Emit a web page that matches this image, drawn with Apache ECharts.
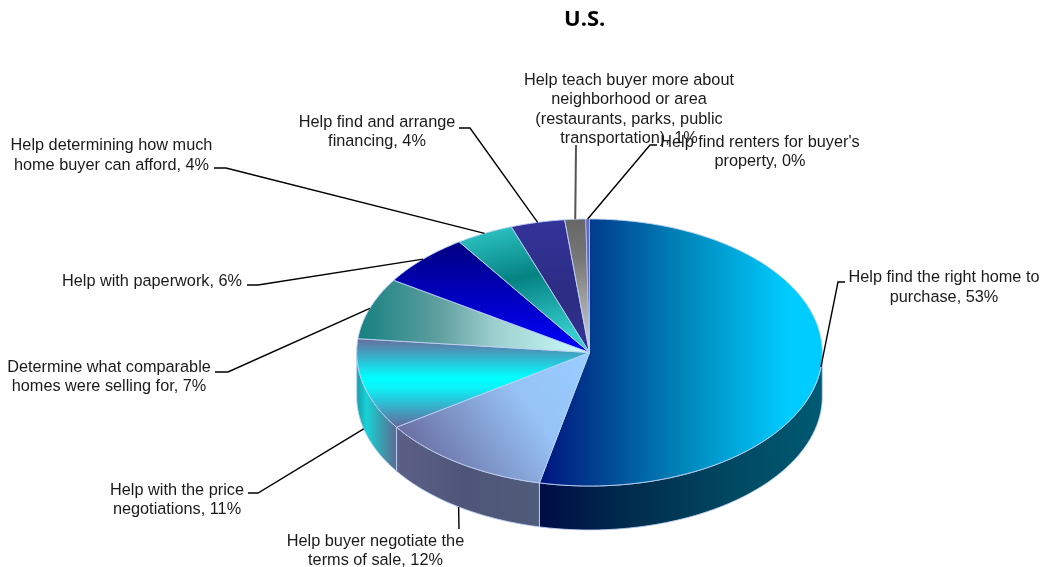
<!DOCTYPE html>
<html><head><meta charset="utf-8">
<style>html,body{margin:0;padding:0;background:#fff}#c{width:1042px;height:567px}</style>
<script src="https://cdn.jsdelivr.net/npm/echarts@6/dist/echarts.min.js"></script></head>
<body><div id="c"></div>
<script>
// DATA (shares in percent, estimated; labels show them rounded)
const categories = [
  "Help find the right home to\npurchase",
  "Help buyer negotiate the\nterms of sale",
  "Help with the price\nnegotiations",
  "Determine what comparable\nhomes were selling for",
  "Help with paperwork",
  "Help determining how much\nhome buyer can afford",
  "Help find and arrange\nfinancing",
  "Help teach buyer more about\nneighborhood or area\n(restaurants, parks, public\ntransportation)",
  "Help find renters for buyer's\nproperty"
];
const shares = [53.45, 12.1, 11.1, 7.45, 6.45, 4.0, 3.75, 1.45, 0.25];

// LAYOUT
const CX = 589.5, CY = 352.5, RX = 232.8, RY = 133.5, DEPTH = 44;
// label centre [x, y of first line centre], elbow chain from the rim outward
const labelPos = [
  [944, 278], [375.5, 541.5], [177, 490.5], [109, 367.5], [152, 281.5],
  [111.5, 146], [377, 122.5], [629, 80.5], [760, 142.5]
];
const elbows = [
  [[838, 282], [845, 282]],
  [[459, 529]],
  [[258, 493], [248, 493]],
  [[228, 372], [215, 372]],
  [[258, 285], [247, 285]],
  [[226, 168], [214, 168]],
  [[470, 128], [459, 128]],
  [[576, 145]],
  [[650, 145], [657, 145]]
];
const LH = 19.4;

// STYLE
const G = (x0, y0, x1, y1, stops) => new echarts.graphic.LinearGradient(x0, y0, x1, y1,
  stops.map(s => ({offset: s[0], color: s[1]})));
const topFill = [
  G(0,0,1,0,[[0,'#001480'],[0.2,'#00408f'],[0.5,'#0084b8'],[0.88,'#00ccff'],[1,'#00ccff']]),
  G(0.95,0.05,0.1,0.95,[[0,'#99ccff'],[0.35,'#96c2f5'],[1,'#666699']]),
  G(0,0,0,1,[[0,'#6a6a9b'],[0.44,'#00ffff'],[0.55,'#0cf4fa'],[1,'#666699']]),
  G(0,0,1,0,[[0,'#158080'],[0.35,'#5f9f9f'],[0.6,'#9fd0d0'],[1,'#ccffff']]),
  G(0,0,0,1,[[0,'#000080'],[1,'#0000ff']]),
  G(0,0,0.25,1,[[0,'#33cccc'],[0.5,'#058282'],[1,'#33cccc']]),
  G(0,0,0,1,[[0,'#333399'],[0.6,'#2c2c82'],[1,'#333399']]),
  G(0,0,0,1,[[0,'#666666'],[0.3,'#777777'],[1,'#d4d4d4']]),
  G(0,0,0,1,[[0,'#6666cc'],[1,'#6666cc']])
];
const sideFill = [
  G(0,0,1,0,[[0,'#000c46'],[0.3,'#002a4c'],[0.7,'#004a62'],[1,'#005a73']]),
  G(0,0,1,0,[[0,'#5c6088'],[0.5,'#4f5578'],[1,'#505c7a']]),
  G(0,0,1,0,[[0,'#1a9aa6'],[0.25,'#18d2d6'],[0.55,'#33a8b6'],[1,'#5f6890']])
];
const EDGE = 'rgba(190,210,245,0.9)';

// GEOMETRY
const total = shares.reduce((a, b) => a + b, 0);
const toAngle = s => s / total * 2 * Math.PI;
const rim = (t, dy) => [CX + RX * Math.sin(t), CY - RY * Math.cos(t) + (dy || 0)];
const starts = shares.map((_, i) => toAngle(shares.slice(0, i).reduce((a, b) => a + b, 0)));
const arc = (a, b, dy) => {
  const n = Math.max(2, Math.ceil((b - a) / 0.01)), p = [];
  for (let k = 0; k <= n; k++) p.push(rim(a + (b - a) * k / n, dy));
  return p;
};

function renderItem(params, api) {
  const i = params.dataIndex, a = starts[i], b = a + toAngle(api.value(0));
  const kids = [];
  // wall: only the front half of the rim is visible
  const wa = Math.max(a, Math.PI / 2), wb = Math.min(b, 3 * Math.PI / 2);
  if (wb > wa) {
    kids.push({type: 'polygon', z2: 1,
      shape: {points: arc(wa, wb, 0).concat(arc(wa, wb, DEPTH).reverse())},
      style: {fill: sideFill[i] || '#555', stroke: EDGE, lineWidth: 1}});
  }
  kids.push({type: 'polygon', z2: 2,
    shape: {points: [[CX, CY]].concat(arc(a, b, 0))},
    style: {fill: topFill[i], stroke: EDGE, lineWidth: i === 8 ? 0.6 : 1}});
  return {type: 'group', children: kids};
}

function renderLabel(params, api) {
  const i = params.dataIndex, a = starts[i], m = a + toAngle(api.value(0)) / 2;
  const front = m > Math.PI / 2 + 0.3 && m < 3 * Math.PI / 2;
  const anchor = rim(m, front ? DEPTH : 0);
  const text = categories[i] + ', ' + Math.round(api.value(0)) + '%';
  return {type: 'group', children: [
    {type: 'polyline', z2: 5,
      shape: {points: [anchor].concat(elbows[i])},
      style: {fill: null, stroke: i === 7 ? '#555555' : '#000000', lineWidth: i === 7 ? 2 : 1.4}},
    {type: 'text', z2: 6, x: labelPos[i][0], y: labelPos[i][1] - LH / 2,
      style: {text, fill: '#1a1a1a', align: 'center', verticalAlign: 'top',
        font: '16.3px "Liberation Sans", Arial, sans-serif', lineHeight: LH}}
  ]};
}

const chart = echarts.init(document.getElementById('c'), null, {renderer: 'canvas'});
chart.setOption({
  animation: false,
  backgroundColor: '#fff',
  title: {text: 'U.S.', left: 559, top: 4,
    textStyle: {fontFamily: '"Open Sans", sans-serif', fontWeight: 'bold', fontSize: 22, color: '#000'}},
  series: [
    {type: 'custom', coordinateSystem: 'none', renderItem, data: shares.map(v => [v]), silent: true, z: 2},
    {type: 'custom', coordinateSystem: 'none', renderItem: renderLabel, data: shares.map(v => [v]), silent: true, z: 3}
  ]
});
</script></body></html>
